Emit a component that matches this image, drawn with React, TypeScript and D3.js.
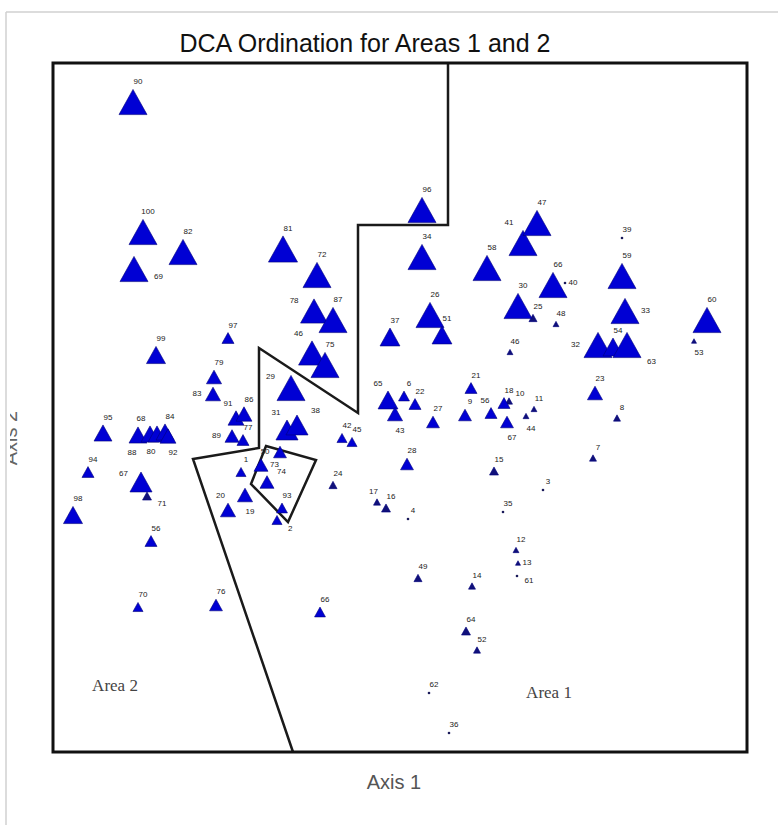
import React from "react";
import * as d3 from "d3";

const W = 778;
const H = 825;

const siteLabels = [
  "90","100","82","69","81","72","78","87","46","75",
  "96","34","58","41","47","66","40","39","59","33",
  "25","30","48","26","51","37","46","32","54","63",
  "60","53","23","8","7","3","11","44","10","18",
  "67","56","9","21","27","22","6","65","43","28",
  "15","35","17","16","4","24","42","45","31","38",
  "29","50","73","74","93","2","1","19","20","97",
  "79","83","91","86","89","77","99","95","88","68",
  "80","84","92","94","67","71","98","56","70","76",
  "66","12","13","61","49","14","64","52","62","36",
];

const axis1Scores = [
  80,90,130,81,230,264,261,280,259,272,
  369,369,434,470,484,500,512,569,569,572,
  480,465,503,377,389,337,457,545,560,574,
  654,641,542,564,540,490,481,473,456,451,
  454,438,412,418,380,362,351,335,342,354,
  441,450,324,333,355,280,289,299,234,244,
  238,227,208,214,229,224,188,192,175,175,
  161,160,183,191,179,190,103,50,85,97,
  104,112,115,35,88,94,20,98,85,163,
  267,463,465,464,365,419,413,424,376,396,
];

const axis2Scores = [
  650,520,500,483,503,477,441,432,399,387,
  542,495,484,509,529,467,469,514,476,441,
  434,446,428,437,417,415,400,407,405,407,
  432,411,359,334,294,262,343,336,351,349,
  330,339,337,364,330,348,356,352,338,288,
  281,240,250,244,233,267,314,310,322,327,
  364,300,287,270,244,232,280,257,242,414,
  375,358,334,338,316,312,397,319,317,318,
  318,320,316,280,270,256,237,211,145,147,
  140,202,189,176,174,166,121,102,59,19,
];

// abundance class (0-10) sets the triangle size
const abundance = [
  10,10,10,10,10.4,10,9.6,10,9.6,10,
  10,10,10,10,10,10,1.1,1.1,10,10,
  2.9,10,2.1,10,7.1,7.1,2.1,10,7.1,10,
  10,1.8,5.4,2.5,2.5,1.1,2.1,2.1,2.5,4.3,
  4.6,4.3,4.6,4.3,4.6,4.3,3.9,7.1,5.4,4.6,
  3.2,1.1,2.5,3.2,1.1,2.9,3.6,3.6,7.9,7.9,
  10,4.6,5,5,3.9,3.6,3.6,5.4,5.4,4.3,
  5.4,5.4,5.7,5.7,5,4.3,6.8,6.4,6.4,6.4,
  6.4,6.4,5.7,4.3,7.9,3.2,6.8,4.3,3.6,4.6,
  3.9,2.1,1.8,1.1,2.9,2.5,3.2,2.5,1.1,1.1,
];

const labelSide = [
  "t","t","t","rb","t","t","lt","t","tl","t",
  "t","t","t","tl","t","t","r","t","t","r",
  "t","t","t","t","t","t","t","l","t","br",
  "t","b","t","t","t","t","t","b","tr","t",
  "b","tl","t","t","t","t","t","tl","b","t",
  "t","t","tl","t","t","t","t","t","tl","tr",
  "lt","l","r","tr","t","br","t","b","tl","t",
  "t","l","tl","t","l","t","t","t","bl","tl",
  "bl","t","b","t","lt","rb","t","t","t","t",
  "t","t","r","br","t","t","t","t","t","t",
];

const areaBoundary: [number, number][] = [
  [395, 689], [395, 527], [305, 527], [305, 339], [206, 404], [206, 304], [140, 293], [240, 0],
];
const innerPlot: [number, number][] = [
  [213, 306], [263, 292], [235, 230], [198, 268],
];
const areaNames = ["Area 1", "Area 2"];
const areaNameX = [496, 62];
const areaNameY = [59, 66];

const title = "DCA Ordination for Areas 1 and 2";
const xTitle = "Axis 1";
const yTitle = "Axis 2";

export default function App() {
  const x = d3.scaleLinear().domain([0, 694]).range([53, 747]);
  const y = d3.scaleLinear().domain([0, 689]).range([752, 63]);
  const size = d3.scaleLinear().domain([0, 10]).range([0, 28]);
  const line = d3.line<[number, number]>().x((d) => x(d[0])).y((d) => y(d[1]));

  const pts = siteLabels.map((lab, i) => {
    const cx = x(axis1Scores[i]);
    const cy = y(axis2Scores[i]);
    const w = size(abundance[i]);
    const h = w * 0.9;
    let lx = cx + 5, ly = cy - h / 2 - 5, anchor = "middle";
    switch (labelSide[i]) {
      case "r": lx = cx + w / 2 + 2; ly = cy + 2; anchor = "start"; break;
      case "rb": lx = cx + w / 2 + 6; ly = cy + 10; anchor = "start"; break;
      case "l": lx = cx - w / 2 - 4; ly = cy + 2; anchor = "end"; break;
      case "lt": lx = cx - w / 2 - 2; ly = cy - h / 2 + 4; anchor = "end"; break;
      case "tl": lx = cx - w / 2; ly = cy - h / 2 - 5; anchor = "middle"; break;
      case "tr": lx = cx + w / 2 + 3; ly = cy - h / 2 - 2; anchor = "start"; break;
      case "b": lx = cx + 5; ly = cy + h / 2 + 12; anchor = "middle"; break;
      case "bl": lx = cx - 6; ly = cy + h / 2 + 12; anchor = "middle"; break;
      case "br": lx = cx + w / 2 + 6; ly = cy + h / 2 + 6; anchor = "start"; break;
    }
    return { lab, cx, cy, w, h, lx, ly, anchor };
  });

  return (
    <svg width={W} height={H} style={{ position: "absolute", left: 0, top: 0, display: "block", background: "#fff" }}>
      <defs>
        <clipPath id="pageClip">
          <rect x={10} y={13} width={W} height={H} />
        </clipPath>
      </defs>
      <line x1={6} y1={12} x2={W} y2={12} stroke="#d0d0d0" strokeWidth={1.5} />
      <line x1={6} y1={12} x2={6} y2={H} stroke="#d0d0d0" strokeWidth={1.5} />
      <g clipPath="url(#pageClip)">
        <text x={365} y={52} textAnchor="middle" fontFamily="Liberation Sans, Arial, sans-serif" fontSize={25} fill="#111">{title}</text>
        <text x={394} y={789} textAnchor="middle" fontFamily="Liberation Sans, Arial, sans-serif" fontSize={20} fill="#555">{xTitle}</text>
        <text transform="translate(17,438) rotate(-90)" textAnchor="middle" fontFamily="Liberation Sans, Arial, sans-serif" fontSize={20} fill="#666">{yTitle}</text>

        <path d={line(areaBoundary) || ""} fill="none" stroke="#1a1a1a" strokeWidth={2.5} />
        <path d={(line(innerPlot) || "") + "Z"} fill="none" stroke="#1a1a1a" strokeWidth={2.5} />

        {pts.map((p, i) =>
          p.w <= 3.5 ? (
            <circle key={"m" + i} cx={p.cx} cy={p.cy} r={1.3} fill="#1a1a5a" />
          ) : (
            <polygon
              key={"m" + i}
              points={`${p.cx},${p.cy - p.h / 2} ${p.cx + p.w / 2},${p.cy + p.h / 2} ${p.cx - p.w / 2},${p.cy + p.h / 2}`}
              fill={p.w < 9 ? "#10107a" : "#0000d4"}
              stroke="#00007a"
              strokeWidth={0.6}
            />
          )
        )}
        {pts.map((p, i) => (
          <text key={"t" + i} x={p.lx} y={p.ly} textAnchor={p.anchor as any} fontFamily="Liberation Sans, Arial, sans-serif" fontSize={8} fill="#222">{p.lab}</text>
        ))}

        {areaNames.map((n, i) => (
          <text key={n} x={x(areaNameX[i])} y={y(areaNameY[i]) + 5} textAnchor="middle" fontFamily="Liberation Serif, Times New Roman, serif" fontSize={17} fill="#444">{n}</text>
        ))}

        <rect x={53} y={63} width={694} height={689} fill="none" stroke="#111" strokeWidth={3} />
      </g>
    </svg>
  );
}
